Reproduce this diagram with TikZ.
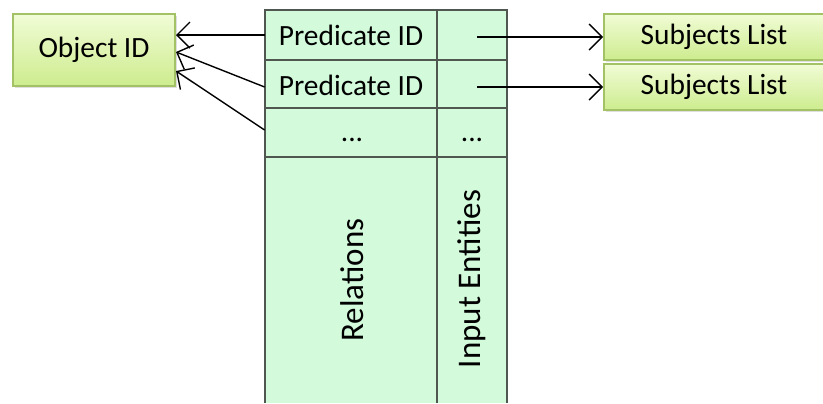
\documentclass[tikz,border=0pt]{standalone}
\usepackage{fontspec}
\setmainfont{Carlito}
\usepackage{tikz}
\usepackage{xcolor}
\usetikzlibrary{arrows.meta,shadows}

\definecolor{boxtop}{HTML}{F1FCD6}
\definecolor{boxbot}{HTML}{CDEC8E}
\definecolor{boxline}{HTML}{A3C266}
\definecolor{tablefill}{HTML}{D3FADB}
\definecolor{tableline}{HTML}{505650}

\tikzset{
  greenbox/.style={draw=boxline, line width=1pt, top color=boxtop, bottom color=boxbot,
    drop shadow={shadow xshift=1.2pt, shadow yshift=-1.2pt, opacity=0.25},
    font=\fontsize{14.7}{17}\selectfont},
  cell/.style={inner sep=0pt, font=\fontsize{14.7}{17}\selectfont},
  tallcell/.style={inner sep=0pt, rotate=90, font=\fontsize{16.5}{19}\selectfont},
  link/.style={line width=0.7pt, -{Straight Barb[length=6.5pt,width=13pt]}}
}

\begin{document}
\begin{tikzpicture}[x=0.5pt,y=-0.5pt]
              \useasboundingbox (0,0) rectangle (823,403);
              % table
              \fill[tablefill] (265,10) rectangle (507,403);
              \draw[tableline, line width=1pt] (265,403) -- (265,10) -- (507,10) -- (507,403);
              \draw[tableline, line width=1pt] (437,10) -- (437,403);
              \draw[tableline, line width=1pt] (265,60) -- (507,60);
              \draw[tableline, line width=1pt] (265,108) -- (507,108);
              \draw[tableline, line width=1pt] (265,157) -- (507,157);
              \node[cell, minimum width=86pt, minimum height=25pt] (p1) at (351,35) {Predicate ID};
              \node[cell, minimum width=86pt, minimum height=24pt] (p2) at (351,85) {Predicate ID};
              \node[cell, minimum width=86pt, minimum height=24pt] (pd) at (351,132) {};
              \node[cell] at (352,140) {...};
              \node[cell] at (472,140) {...};
              \coordinate (e1) at (477,37);
              \coordinate (e2) at (477,87);
              \node[tallcell] (rel) at (352,280) {Relations};
              \node[tallcell] (ent) at (472,279) {Input Entities};
              % boxes
              \node[greenbox, minimum width=81pt, minimum height=36pt] (obj) at (94,50) {Object ID};
              \node[greenbox, minimum width=110pt, minimum height=23pt] (s1) at (714,37) {Subjects List};
              \node[greenbox, minimum width=110pt, minimum height=23pt] (s2) at (714,87) {Subjects List};
              % arrows
              \draw[link] (p1.west) -- (obj.east |- p1.west);
              \draw[link] ([yshift=-1pt]p2.west) -- ([yshift=-1pt]obj.east);
              \draw[link] ([yshift=1pt]pd.west) -- ([yshift=8pt]obj.south east);
              \draw[link] (e1) -- (s1.west);
              \draw[link] (e2) -- (s2.west);
       \end{tikzpicture}
\end{document}
